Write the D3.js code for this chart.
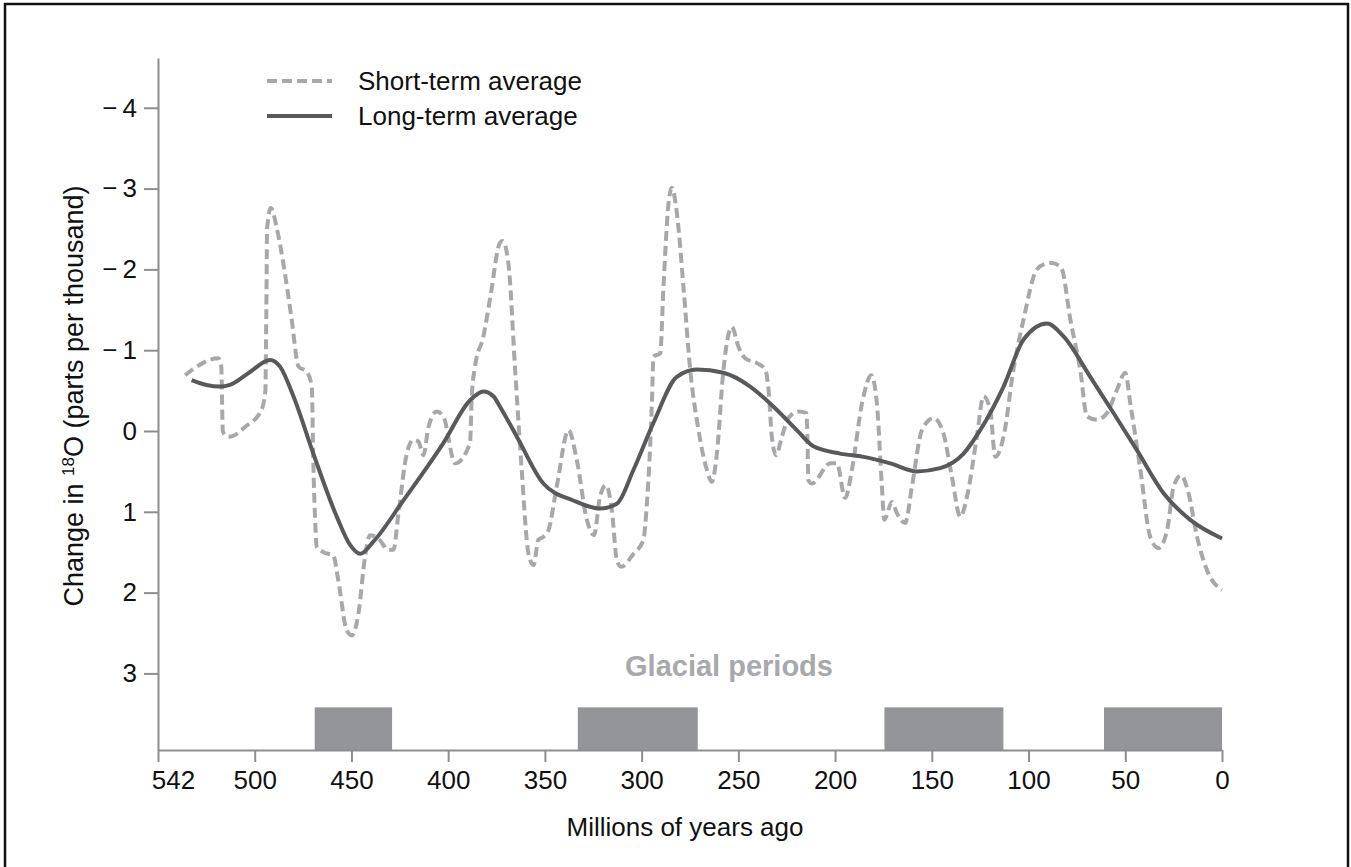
<!DOCTYPE html>
<html>
<head>
<meta charset="utf-8">
<script src="https://cdn.jsdelivr.net/npm/d3@7"></script>
<style>
  body { margin: 0; background: #fff; }
  text { font-family: "Liberation Sans", Arial, Helvetica, sans-serif; fill: #111; }
</style>
</head>
<body>
<div id="o18-chart"></div>
<script>
/* oxygen isotope record over the Phanerozoic, with glacial periods */

// short-term average (millions of years ago, change in 18O)
const shortAge = [536, 518.8, 517.3, 516.5, 515, 512.8, 505, 496.5, 494.5, 494, 493.6, 491.7, 488.5, 485, 481, 477.4, 473, 470.5, 469.7, 468.6, 468, 464.5, 459.4, 456.8, 452.4, 449.8, 446.4, 443, 440.4, 436.1, 430.9, 428.3, 425.7, 421.4, 418, 415.4, 412.8, 410.2, 405.9, 402.5, 396.4, 388.7, 387.8, 386.1, 381.8, 378.2, 373.2, 371.8, 368.9, 365.4, 362, 358.5, 355.9, 353.4, 350.8, 348.2, 343.9, 337.8, 333.5, 328.3, 324.6, 321.5, 318.4, 315.4, 312.8, 310.6, 304.2, 299.1, 297.3, 294.7, 293.9, 290.4, 288.7, 286.1, 284.4, 281.8, 278.4, 274.9, 270.6, 266.3, 263.7, 261.1, 257.7, 253.4, 249.9, 246.5, 240.4, 236.1, 234.4, 232.7, 230.5, 227.5, 224.1, 218.9, 214.9, 214.3, 213.8, 212, 202.5, 199.1, 194.8, 191.3, 186.1, 181.3, 178.4, 175.8, 174.6, 170.6, 168, 163.8, 160.3, 155.1, 149.1, 144, 139.6, 135.3, 131.8, 126.7, 123.3, 119.8, 117.2, 112.9, 107.8, 102.6, 95.7, 91, 87.9, 84.5, 82.7, 78.4, 73.3, 69.8, 64.6, 59.5, 54.3, 50, 47.4, 42.2, 37.1, 32.8, 28.4, 25, 21.2, 17.3, 12.9, 7.8, 0];
const shortVal = [-0.69, -0.90, -0.80, 0.0, 0.06, 0.07, -0.05, -0.26, -0.5, -1.5, -2.5, -2.76, -2.5, -2.04, -1.4, -0.80, -0.73, -0.55, 0.40, 1.2, 1.43, 1.50, 1.54, 1.85, 2.47, 2.53, 2.26, 1.56, 1.29, 1.33, 1.47, 1.47, 1.02, 0.28, 0.11, 0.13, 0.30, -0.05, -0.24, -0.18, 0.40, 0.15, -0.43, -0.80, -1.17, -1.66, -2.33, -2.35, -2.08, -0.76, 0.48, 1.52, 1.66, 1.35, 1.31, 1.23, 0.69, -0.01, 0.36, 1.10, 1.29, 0.81, 0.67, 0.98, 1.60, 1.68, 1.52, 1.35, 0.90, -0.34, -0.92, -0.96, -1.79, -2.82, -3.01, -2.70, -1.79, -0.76, -0.01, 0.48, 0.63, 0.28, -0.76, -1.29, -1.04, -0.90, -0.84, -0.76, -0.51, 0.07, 0.30, 0.07, -0.16, -0.24, -0.22, 0.07, 0.61, 0.65, 0.40, 0.40, 0.83, 0.48, -0.34, -0.69, -0.34, 0.69, 1.10, 0.88, 1.02, 1.14, 0.69, -0.01, -0.16, 0.03, 0.57, 1.06, 0.81, 0.07, -0.43, -0.26, 0.32, 0.07, -0.76, -1.38, -2.00, -2.07, -2.08, -2.05, -2.00, -1.38, -0.76, -0.18, -0.14, -0.22, -0.51, -0.72, -0.34, 0.48, 1.31, 1.45, 1.23, 0.69, 0.55, 0.77, 1.31, 1.72, 1.97];

// long-term average
const longAge = [532.6, 525, 518, 512.8, 503, 492.1, 487, 480, 469.7, 457.6, 450.7, 445.5, 438.7, 423.2, 402.5, 388.7, 381.8, 376.6, 373.2, 364.5, 350.8, 335.3, 321.5, 312.8, 304.2, 293.9, 281.8, 271.5, 257.7, 243.9, 231.8, 219.8, 211.2, 197.4, 185.3, 171.5, 157.7, 145.7, 133.6, 125, 112.9, 102.6, 90.5, 81.9, 68.1, 56, 43.9, 30.2, 16.4, 0];
const longVal = [-0.63, -0.57, -0.55, -0.57, -0.72, -0.88, -0.80, -0.43, 0.28, 1.06, 1.41, 1.52, 1.37, 0.86, 0.15, -0.38, -0.49, -0.43, -0.30, 0.07, 0.65, 0.86, 0.96, 0.90, 0.48, -0.10, -0.67, -0.76, -0.72, -0.55, -0.30, -0.01, 0.19, 0.28, 0.32, 0.40, 0.50, 0.46, 0.28, -0.01, -0.55, -1.13, -1.33, -1.17, -0.67, -0.22, 0.24, 0.77, 1.10, 1.33];

// glacial periods (millions of years ago)
const glacialStart = [469, 333, 174.5, 61];
const glacialEnd = [429, 271, 113, 0];

// ticks
const xTicks = [550, 500, 450, 400, 350, 300, 250, 200, 150, 100, 50, 0];
const xTickLabels = ["542", "500", "450", "400", "350", "300", "250", "200", "150", "100", "50", "0"];
const yTicks = [-4, -3, -2, -1, 0, 1, 2, 3];

const axisGrey = "#8d8e91";

// Set the scales for the x and y axes
const o_xScale = d3.scaleLinear().domain([550, 0]).range([158, 1222]);
const o_yScale = d3.scaleLinear().domain([-4.616, 3.948]).range([58, 750]);

let o_svg = d3.select('#o18-chart')
  .append('svg')
  .attr('width', 1351)
  .attr('height', 867);

// frame round the figure
o_svg.append('rect')
  .attr('x', 5).attr('y', 4)
  .attr('width', 1343).attr('height', 880)
  .attr('fill', 'none')
  .attr('stroke', '#111')
  .attr('stroke-width', 2.5);

// glacial bars
o_svg.selectAll('.glacial')
  .data(glacialStart)
  .enter().append('rect')
  .attr('fill', '#939598')
  .attr('x', (d, i) => o_xScale(d))
  .attr('y', o_yScale(3.42))
  .attr('width', (d, i) => o_xScale(glacialEnd[i]) - o_xScale(d))
  .attr('height', o_yScale.range()[1] - o_yScale(3.42));

o_svg.append('text')
  .attr('x', 729)
  .attr('y', 676)
  .attr('text-anchor', 'middle')
  .style('font-size', '29px')
  .style('font-weight', 'bold')
  .style('fill', '#a7a9ac')
  .text('Glacial periods');

// Add the x axis
let xAxis = o_svg.append('g')
  .attr('transform', 'translate(0,750)')
  .call(d3.axisBottom(o_xScale)
    .tickValues(xTicks)
    .tickFormat((d, i) => xTickLabels[i])
    .tickSize(12)
    .tickSizeOuter(0)
    .tickPadding(9));

// the 542 label sits a little right of its tick
xAxis.selectAll('.tick text').filter((d, i) => i == 0).attr('dx', 15);

// Add the y axis
let yAxis = o_svg.append('g')
  .attr('transform', 'translate(158,0)')
  .call(d3.axisLeft(o_yScale)
    .tickValues(yTicks)
    .tickFormat(d => d < 0 ? '\u2212\u2009' + Math.abs(d) : d)
    .tickSize(14)
    .tickSizeOuter(0)
    .tickPadding(7));

[xAxis, yAxis].forEach(ax => {
  ax.select('.domain').attr('stroke', axisGrey).attr('stroke-width', 2);
  ax.selectAll('.tick line').attr('stroke', axisGrey).attr('stroke-width', 2);
  ax.selectAll('.tick text')
    .style('font-family', '"Liberation Sans", Arial, sans-serif')
    .style('font-size', '26px')
    .attr('fill', '#111');
});

// axis labels
o_svg.append('text')
  .attr('text-anchor', 'middle')
  .attr('x', 685)
  .attr('y', 836)
  .style('font-size', '26px')
  .text('Millions of years ago');

let yLab = o_svg.append('text')
  .attr('text-anchor', 'middle')
  .attr('transform', 'translate(83,396) rotate(-90)')
  .style('font-size', '27px');
yLab.append('tspan').text('Change in ');
yLab.append('tspan').attr('baseline-shift', 'super').style('font-size', '17px').text('18');
yLab.append('tspan').text('O (parts per thousand)');

// lines
const o_line = d3.line()
  .x(d => o_xScale(d[0]))
  .y(d => o_yScale(d[1]))
  .curve(d3.curveMonotoneX);

o_svg.append('path')
  .datum(shortAge.map((a, i) => [a, shortVal[i]]))
  .attr('fill', 'none')
  .attr('stroke', '#a7a8ab')
  .attr('stroke-width', 4)
  .attr('stroke-dasharray', '10,5')
  .attr('d', o_line);

o_svg.append('path')
  .datum(longAge.map((a, i) => [a, longVal[i]]))
  .attr('fill', 'none')
  .attr('stroke', '#58595b')
  .attr('stroke-width', 4)
  .attr('d', o_line);

// legend
const legendItems = ['Short-term average', 'Long-term average'];
legendItems.forEach((name, i) => {
  let ly = 81 + i * 35;
  o_svg.append('line')
    .attr('x1', 267).attr('x2', 332)
    .attr('y1', ly).attr('y2', ly)
    .attr('stroke', i == 0 ? '#a7a8ab' : '#58595b')
    .attr('stroke-width', 4)
    .attr('stroke-dasharray', i == 0 ? '10,5' : null);
  o_svg.append('text')
    .attr('x', 358)
    .attr('y', ly + 9)
    .style('font-size', '26px')
    .text(name);
});
</script>
</body>
</html>
